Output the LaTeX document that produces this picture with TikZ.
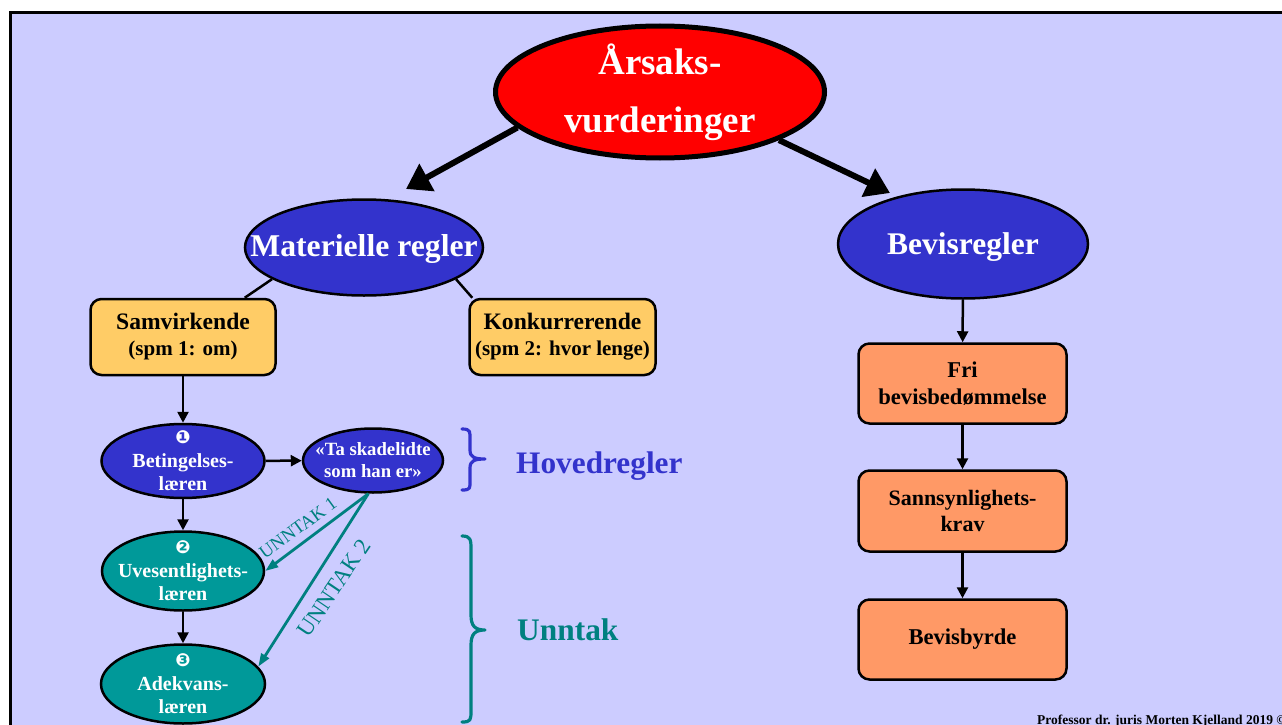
\documentclass[tikz,border=0pt]{standalone}
\usepackage{fontspec}
\setmainfont{Liberation Serif}
\newfontfamily\dejavu{DejaVu Sans}
\usetikzlibrary{shapes.geometric, arrows.meta}
\definecolor{bg}{HTML}{CCCCFF}
\definecolor{myblue}{HTML}{3333CC}
\definecolor{myteal}{HTML}{009999}
\definecolor{tealdark}{HTML}{008080}
\definecolor{myyellow}{HTML}{FFCC66}
\definecolor{myorange}{HTML}{FF9966}
\newcommand{\fsz}[2]{\fontsize{#1}{#2}\selectfont}
\begin{document}
\begin{tikzpicture}[x=1pt,y=-1pt,
  ell/.style={ellipse, draw=black, line width=2.5pt, inner sep=0pt},
  etext/.style={text=white, align=center, inner sep=0pt},
  box/.style={rectangle, rounded corners=11pt, draw=black, line width=2.5pt, inner sep=0pt, align=center, minimum width=208pt},
  arr/.style={-{Triangle[length=11pt,width=11pt]}, line width=2.5pt},
  bigarr/.style={-{Triangle[length=24pt,width=30pt]}, line width=6pt},
  tarr/.style={-{Triangle[length=13pt,width=9pt]}, line width=2.8pt, draw=tealdark, fill=tealdark},
  conn/.style={line width=2.5pt},
  bracepath/.style={line width=3.2pt, line cap=round, line join=round},
  ulabel/.style={text=tealdark, inner sep=0pt},
]
\useasboundingbox (0,0) rectangle (1282,725);
\fill[white] (0,0) rectangle (1282,725);
\filldraw[fill=bg, draw=black, line width=3pt] (10.5,12.5) rectangle (1300,745);

% top
\node[ell, fill=red, line width=5pt, minimum width=329pt, minimum height=132pt,
      label={[etext, font=\bfseries\fsz{37}{58}]center:{Årsaks-\\vurderinger}}] (top) at (660,92) {};
\node[ell, fill=myblue, minimum width=238pt, minimum height=96pt,
      label={[etext, font=\bfseries\fsz{31.7}{36}, yshift=-1pt]center:{Materielle regler}}] (mat) at (364,247.5) {};
\node[ell, fill=myblue, minimum width=250pt, minimum height=109pt,
      label={[etext, font=\bfseries\fsz{31.5}{36}, yshift=-3pt]center:{Bevisregler}}] (bev) at (963,244) {};

\coordinate (a1) at (406,189);
\coordinate (a2) at (890,193);
\draw[bigarr] (top.194) -- (a1);
\draw[bigarr] (top.338) -- (a2);

% yellow boxes
\node[box, fill=myyellow, minimum width=185pt, minimum height=76pt, font=\bfseries\fsz{23.6}{26}]
  (samv) at (183,337) {Samvirkende\\\fsz{21}{25}(spm 1: om)};
\node[box, fill=myyellow, minimum width=186pt, minimum height=76pt, font=\bfseries\fsz{23.6}{26}]
  (konk) at (562.5,337) {Konkurrerende\\\fsz{21}{25}(spm 2: hvor lenge)};
\draw[conn] (mat.199) -- ([xshift=-32pt]samv.north east);
\draw[conn] (mat.341) -- ([xshift=4pt]konk.north west);

% left column
\node[ell, fill=myblue, minimum width=163pt, minimum height=74pt,
      label={[etext, font=\bfseries\fsz{20}{23.5}]center:{{\dejavu\fsz{18}{24}❶}\\Betingelses-\\læren}}]
  (bet) at (183,461) {};
\node[ell, fill=myblue, minimum width=140pt, minimum height=64pt,
      label={[etext, font=\bfseries\fsz{18.7}{22}]center:{«Ta skadelidte\\som han er»}}]
  (ta) at (373,460.5) {};
\node[ell, fill=myteal, minimum width=162pt, minimum height=79pt,
      label={[etext, font=\bfseries\fsz{20}{23.5}]center:{{\dejavu\fsz{18}{27}❷}\\Uvesentlighets-\\læren}}]
  (uve) at (183,571) {};
\node[ell, fill=myteal, minimum width=164pt, minimum height=79pt,
      label={[etext, font=\bfseries\fsz{20}{23.5}]center:{{\dejavu\fsz{18}{27}❸}\\Adekvans-\\læren}}]
  (adek) at (183,684) {};

\draw[arr] (samv) -- (bet);
\draw[arr] (bet) -- (ta);
\draw[arr] (bet) -- (uve);
\draw[arr] (uve) -- (adek);

\draw[tarr] (ta.262) -- (uve.east);
\draw[tarr] (ta.262) -- (adek.13);
\node[ulabel, rotate=36, font=\fsz{18.5}{20}] (u1) at (298,528) {UNNTAK 1};
\node[ulabel, rotate=56, font=\fsz{23}{25}] (u2) at (334,588) {UNNTAK 2};

% braces
\draw[bracepath, myblue] (462,429) .. controls (471,429) and (470,432) .. (470,440) -- (470,450)
  .. controls (470,457) and (474,459) .. (485,459) .. controls (474,459) and (470,461) .. (470,468)
  -- (470,480) .. controls (470,488) and (471,490) .. (462,490);
\draw[bracepath, tealdark] (462,536) .. controls (471,536) and (471,540) .. (471,550) -- (471,615)
  .. controls (471,626) and (475,630) .. (485,630) .. controls (475,630) and (471,634) .. (471,645)
  -- (471,710) .. controls (471,720) and (471,722) .. (462,722);
\node[anchor=base west, inner sep=0pt, text=myblue, font=\bfseries\fsz{31.3}{36}] (hov) at (516,473) {Hovedregler};
\node[anchor=base west, inner sep=0pt, text=tealdark, font=\bfseries\fsz{31.4}{36}] (unn) at (517,640) {Unntak};

% right column
\node[box, fill=myorange, minimum height=80pt, font=\bfseries\fsz{22.6}{27}]
  (fri) at (962.5,383.5) {Fri\\bevisbedømmelse};
\node[box, fill=myorange, minimum height=81pt, font=\bfseries\fsz{22}{26}]
  (sann) at (962.5,511) {Sannsynlighets-\\krav};
\node[box, fill=myorange, minimum height=80pt, font=\bfseries\fsz{22.6}{27}]
  (byrde) at (962.5,639.5) {Bevisbyrde};
\draw[arr] (bev) -- (fri);
\draw[arr] (fri) -- (sann);
\draw[arr] (sann) -- (byrde);

\node[anchor=base west, inner sep=0pt, font=\bfseries\fsz{13.5}{15}] (copy) at (1037,724)
  {Professor dr. juris Morten Kjelland 2019 ©};
\end{tikzpicture}
\end{document}
